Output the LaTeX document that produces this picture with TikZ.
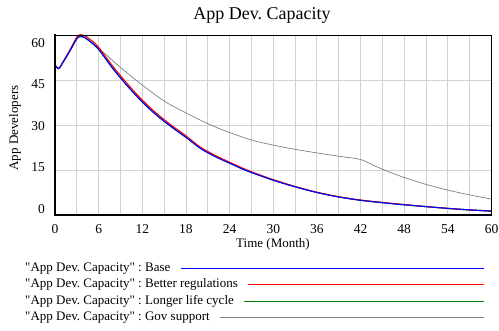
\documentclass[tikz,border=0pt]{standalone}
\usepackage{fontspec}
\setmainfont{Liberation Serif}[Ligatures=TeXOff]
\frenchspacing
\begin{document}
\begin{tikzpicture}[x=1pt,y=-1pt,
  gridline/.style={draw=black!18,line width=0.9pt},
  ticklbl/.style={font=\fontsize{13.5}{15}\selectfont,inner sep=0pt},
  lgd/.style={font=\fontsize{13}{15}\selectfont,inner sep=0pt,anchor=west},
  curve/.style={line width=1.1pt,line join=round},
  base/.style={curve,draw=blue},
  betterreg/.style={curve,draw=red},
  longer/.style={curve,draw={rgb,255:red,0;green,128;blue,0}},
  gov/.style={line width=0.7pt,draw=black!50,line join=round}]
\useasboundingbox (0,0) rectangle (499,330);
\node[font=\fontsize{18}{20}\selectfont,inner sep=0pt] (title) at (262,15) {App Dev. Capacity};
\begin{scope}[shift={(55,215)},x=7.275pt,y=3pt]
  % grid
  \foreach \t in {3,6,...,57} \draw[gridline] (\t,0) -- (\t,60);
  \foreach \v in {15,30,45} \draw[gridline] (0,\v) -- (60,\v);
  % curves
  \draw[gov] plot[smooth,tension=0.5] coordinates {(0,50) (0.5,48.8) (1,50.5) (2,54.5) (3,58.8) (3.5,59.5) (4,59.3) (5,57.6) (6,55.6) (7,53.5) (9,49.2) (12,43.3) (15,38) (17,35.3) (20,31.6) (22,29.4) (24,27.5) (27,25) (30,23.3) (33,21.9) (36,20.7) (39,19.6) (42,18.5) (44,16.3) (46,14.3) (48,12.5) (51,10.2) (54,8.3) (57,6.7) (60,5.3)};
  \draw[longer] plot[smooth,tension=0.5] coordinates {(0,50) (0.5,48.8) (1,50.5) (2,54.5) (3,58.8) (3.5,59.5) (4,59.3) (5,57.5) (6,55.2) (8,48.7) (10,42.9) (12,37.7) (14,33.2) (16,29.4) (18,25.9) (20,22.2) (22,19.5) (24,17.3) (26,15.1) (28,13.3) (30,11.6) (33,9.4) (36,7.5) (39,6.0) (42,4.9) (45,4.1) (48,3.4) (51,2.8) (54,2.2) (57,1.7) (60,1.3)};
  \draw[betterreg] plot[smooth,tension=0.5] coordinates {(0,50) (0.5,48.8) (1,50.6) (2,54.8) (3,59.3) (3.5,60.1) (4,59.9) (5,58.2) (6,55.9) (8,49.4) (10,43.6) (12,38.3) (14,33.8) (16,29.9) (18,26.4) (20,22.6) (22,19.9) (24,17.6) (26,15.4) (28,13.5) (30,11.8) (33,9.5) (36,7.6) (39,6.1) (42,5.0) (45,4.2) (48,3.5) (51,2.8) (54,2.2) (57,1.7) (60,1.3)};
  \draw[base] plot[smooth,tension=0.5] coordinates {(0,50) (0.5,48.8) (1,50.5) (2,54.5) (3,58.8) (3.5,59.5) (4,59.3) (5,57.5) (6,55.2) (8,48.7) (10,42.9) (12,37.7) (14,33.2) (16,29.4) (18,25.9) (20,22.2) (22,19.5) (24,17.3) (26,15.1) (28,13.3) (30,11.6) (33,9.4) (36,7.5) (39,6.0) (42,4.9) (45,4.1) (48,3.4) (51,2.8) (54,2.2) (57,1.7) (60,1.3)};
  % frame
  \draw[line width=0.9pt] (0,60) -- (60,60) -- (60,0);
  \draw[line width=1.6pt] (0,60.3) -- (0,0) -- (60.1,0);
  % x tick labels
  \foreach \t in {0,6,...,60} \node[ticklbl] (xt\t) at (\t,-4.7) {\t};
\end{scope}
% y tick labels
\node[ticklbl,anchor=east] (y60) at (45,43) {60};
\node[ticklbl,anchor=east] (y45) at (45,84.5) {45};
\node[ticklbl,anchor=east] (y30) at (45,126) {30};
\node[ticklbl,anchor=east] (y15) at (45,167.5) {15};
\node[ticklbl,anchor=east] (y0) at (45,209) {0};
\node[font=\fontsize{13}{15}\selectfont,inner sep=0pt,rotate=90] (ylab) at (15,128) {App Developers};
\node[font=\fontsize{13}{15}\selectfont,inner sep=0pt] (xlab) at (273,244) {Time (Month)};
% legend
\node[lgd] (l1) at (25,268.5) {"App Dev. Capacity" : Base};
\node[lgd] (l2) at (25,284.5) {"App Dev. Capacity" : Better regulations};
\node[lgd] (l3) at (25,301) {"App Dev. Capacity" : Longer life cycle};
\node[lgd] (l4) at (25,317.5) {"App Dev. Capacity" : Gov support};
\coordinate (e1) at (483.5,268.5);
\coordinate (e2) at (483.5,284.5);
\coordinate (e3) at (483.5,301);
\coordinate (e4) at (483.5,317.5);
\draw[draw=blue,line width=0.9pt] ([xshift=10pt]l1.east) -- (e1);
\draw[draw=red,line width=0.9pt] ([xshift=10pt]l2.east) -- (e2);
\draw[draw={rgb,255:red,0;green,128;blue,0},line width=0.9pt] ([xshift=10pt]l3.east) -- (e3);
\draw[draw=black!50,line width=0.7pt] ([xshift=10pt]l4.east) -- (e4);
\end{tikzpicture}
\end{document}
